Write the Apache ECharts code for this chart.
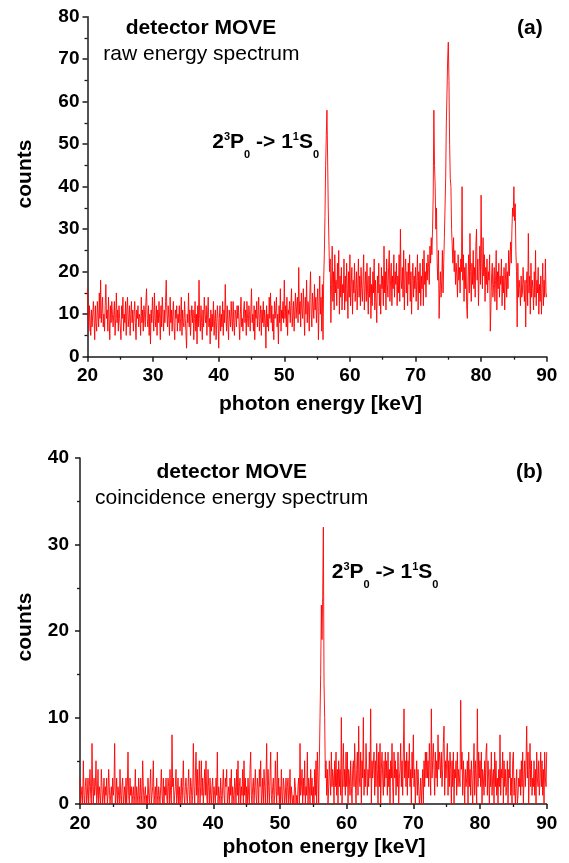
<!DOCTYPE html>
<html><head><meta charset="utf-8">
<script src="https://cdn.jsdelivr.net/npm/echarts@6/dist/echarts.min.js"></script>
<style>html,body{margin:0;padding:0;background:#fff}#c{width:569px;height:863px}</style>
</head><body><div id="c"></div>
<script>
// channel grid of both spectra (keV)
const energyStart = 20;
const energyStep = 0.1;
const xTicks = [20, 30, 40, 50, 60, 70, 80, 90];

// (a) raw energy spectrum, counts per channel, one row per keV (20.0 ... 89.9), then 90.0
const rawCounts = [
  16, 9, 6, 12, 8, 5, 11, 7, 10, 13,
  9, 4, 12, 8, 6, 13, 10, 7, 15, 9,
  18, 8, 11, 14, 7, 10, 6, 12, 17, 9,
  11, 6, 14, 9, 4, 12, 8, 13, 10, 7,
  10, 13, 5, 9, 15, 8, 11, 6, 12, 9,
  7, 4, 12, 9, 14, 6, 10, 8, 13, 5,
  11, 14, 7, 9, 12, 5, 10, 13, 8, 11,
  6, 10, 13, 8, 4, 11, 9, 12, 7, 10,
  9, 5, 14, 8, 11, 6, 12, 10, 7, 13,
  16, 9, 7, 12, 5, 10, 3, 11, 8, 14,
  10, 6, 15, 9, 7, 12, 5, 11, 8, 13,
  9, 4, 12, 7, 14, 10, 6, 11, 8, 13,
  18, 10, 7, 12, 9, 5, 14, 8, 11, 6,
  10, 13, 7, 4, 11, 9, 12, 6, 10, 8,
  12, 6, 9, 14, 5, 11, 8, 7, 13, 9,
  6, 2, 10, 8, 15, 7, 11, 5, 9, 12,
  8, 11, 4, 9, 13, 6, 10, 3, 12, 7,
  18, 9, 6, 12, 8, 4, 11, 7, 14, 10,
  8, 12, 5, 10, 14, 7, 9, 3, 11, 6,
  10, 7, 13, 5, 9, 11, 4, 8, 12, 9,
  2, 9, 12, 6, 10, 7, 13, 5, 11, 8,
  17, 10, 6, 12, 8, 4, 11, 9, 7, 13,
  9, 6, 13, 8, 5, 11, 10, 7, 12, 9,
  12, 8, 4, 10, 14, 7, 9, 6, 11, 13,
  8, 11, 5, 13, 9, 7, 12, 10, 6, 11,
  16, 8, 10, 6, 12, 4, 11, 9, 13, 7,
  10, 14, 6, 9, 12, 5, 11, 8, 13, 7,
  11, 9, 2, 12, 7, 10, 6, 14, 9, 15,
  8, 12, 6, 10, 4, 13, 9, 11, 14, 7,
  10, 3, 12, 8, 16, 6, 11, 9, 13, 8,
  18, 9, 12, 7, 14, 5, 11, 10, 13, 8,
  12, 16, 7, 10, 13, 6, 11, 15, 9, 12,
  14, 8, 21, 10, 13, 7, 15, 11, 9, 16,
  11, 5, 14, 10, 18, 8, 13, 12, 6, 15,
  20, 10, 7, 15, 12, 9, 17, 11, 14, 8,
  13, 16, 4, 12, 19, 10, 14, 6, 17, 4,
  18, 24, 33, 45, 52, 58, 47, 35, 27, 20,
  23, 8, 17, 26, 13, 20, 11, 24, 15, 18,
  12, 22, 16, 25, 10, 19, 14, 21, 11, 17,
  15, 23, 11, 19, 13, 22, 16, 9, 20, 14,
  24, 12, 17, 21, 10, 18, 15, 22, 13, 16,
  20, 11, 17, 23, 14, 19, 12, 21, 16, 13,
  18, 24, 11, 16, 20, 13, 22, 15, 10, 19,
  14, 21, 9, 17, 12, 20, 15, 23, 11, 18,
  13, 8, 19, 15, 22, 12, 17, 10, 21, 16,
  19, 12, 26, 15, 20, 11, 23, 17, 14, 21,
  25, 13, 18, 22, 12, 19, 16, 24, 14, 20,
  17, 22, 12, 19, 15, 24, 13, 30, 18, 16,
  21, 14, 25, 11, 19, 23, 15, 20, 12, 22,
  17, 24, 13, 20, 10, 18, 22, 14, 19, 16,
  21, 13, 18, 24, 11, 20, 15, 22, 12, 19,
  16, 23, 12, 25, 17, 20, 14, 22, 18, 24,
  21, 17, 26, 22, 28, 24, 30, 38, 58, 45,
  40, 30, 35, 22, 18, 25, 9, 16, 20, 14,
  18, 25, 15, 22, 28, 35, 42, 55, 62, 70,
  74, 65, 50, 42, 40, 30, 26, 22, 28, 20,
  25, 17, 22, 19, 14, 24, 18, 21, 15, 23,
  20, 40, 18, 24, 13, 21, 16, 22, 12, 9,
  18, 24, 15, 29, 20, 13, 22, 17, 25, 16,
  21, 14, 26, 30, 18, 23, 12, 20, 26, 17,
  38, 22, 16, 28, 19, 24, 13, 21, 17, 23,
  15, 20, 18, 24, 6, 12, 19, 22, 14, 17,
  21, 13, 18, 25, 11, 20, 16, 22, 14, 19,
  17, 23, 12, 19, 15, 21, 11, 18, 22, 14,
  20, 16, 25, 19, 23, 27, 22, 30, 35, 33,
  40, 32, 36, 25, 20, 7, 22, 14, 18, 16,
  12, 19, 14, 15, 21, 17, 13, 18, 7, 17,
  20, 12, 29, 15, 19, 10, 22, 14, 18, 16,
  11, 20, 14, 25, 12, 18, 15, 21, 10, 17,
  13, 19, 10, 16, 22, 12, 18, 14, 23, 15,
  14
];

// (b) coincidence energy spectrum, counts per channel, one row per keV (20.0 ... 89.9), then 90.0
const coincCounts = [
  3, 0, 1, 2, 0, 5, 1, 0, 2, 3,
  0, 1, 3, 0, 2, 4, 1, 0, 7, 2,
  0, 3, 1, 2, 5, 0, 1, 4, 0, 2,
  1, 0, 4, 2, 0, 1, 3, 0, 2, 1,
  3, 0, 1, 4, 2, 0, 1, 2, 0, 3,
  1, 2, 7, 0, 1, 3, 0, 2, 1, 0,
  4, 1, 0, 2, 3, 0, 1, 2, 0, 3,
  0, 2, 6, 1, 0, 3, 1, 2, 0, 1,
  2, 0, 1, 4, 0, 2, 1, 0, 3, 1,
  0, 3, 1, 0, 5, 2, 0, 1, 2, 0,
  1, 0, 3, 1, 0, 2, 4, 0, 1, 2,
  5, 0, 1, 2, 0, 3, 1, 0, 2, 1,
  0, 2, 4, 1, 0, 3, 0, 2, 1, 3,
  1, 0, 3, 2, 0, 4, 1, 0, 8, 2,
  3, 0, 1, 2, 4, 0, 1, 3, 0, 2,
  0, 1, 3, 0, 2, 5, 1, 0, 2, 3,
  1, 0, 2, 4, 1, 0, 3, 2, 0, 1,
  7, 2, 0, 3, 6, 1, 4, 0, 2, 5,
  0, 2, 5, 1, 3, 0, 2, 4, 1, 5,
  1, 0, 4, 2, 0, 3, 1, 0, 2, 3,
  0, 2, 1, 0, 3, 1, 6, 0, 2, 1,
  0, 3, 1, 0, 2, 4, 1, 0, 3, 2,
  4, 0, 1, 2, 0, 3, 1, 4, 0, 2,
  1, 0, 3, 2, 0, 4, 1, 5, 0, 2,
  3, 0, 2, 1, 4, 0, 5, 1, 3, 0,
  2, 0, 3, 1, 0, 4, 6, 1, 0, 2,
  3, 0, 2, 4, 1, 0, 3, 2, 0, 4,
  2, 5, 0, 1, 3, 0, 4, 2, 0, 3,
  7, 0, 4, 2, 0, 3, 6, 1, 0, 2,
  3, 0, 1, 5, 2, 0, 6, 1, 3, 0,
  2, 0, 4, 1, 0, 3, 2, 0, 1, 3,
  0, 2, 3, 0, 1, 4, 0, 2, 1, 0,
  1, 0, 3, 2, 0, 1, 0, 2, 3, 0,
  7, 1, 2, 4, 0, 3, 1, 5, 0, 2,
  1, 6, 0, 3, 2, 0, 4, 1, 3, 0,
  2, 0, 4, 1, 5, 0, 6, 3, 0, 0,
  10, 15, 23, 19, 24, 32, 14, 10, 3, 5,
  1, 4, 0, 2, 5, 3, 1, 6, 2, 4,
  3, 0, 5, 2, 6, 1, 4, 0, 5, 2,
  4, 1, 10, 0, 3, 7, 2, 4, 1, 6,
  2, 6, 0, 4, 3, 1, 5, 2, 0, 4,
  5, 2, 7, 3, 0, 4, 6, 1, 9, 3,
  2, 6, 0, 5, 3, 10, 1, 4, 2, 7,
  7, 1, 4, 2, 6, 3, 11, 0, 5, 3,
  3, 6, 1, 5, 2, 7, 4, 0, 6, 2,
  7, 0, 4, 6, 3, 1, 5, 2, 6, 3,
  5, 1, 6, 2, 4, 0, 5, 3, 7, 2,
  0, 6, 3, 5, 1, 4, 2, 6, 0, 3,
  4, 7, 2, 5, 1, 6, 11, 3, 5, 2,
  6, 1, 5, 3, 7, 2, 4, 0, 6, 3,
  8, 2, 4, 0, 3, 5, 1, 4, 2, 0,
  1, 3, 0, 2, 4, 0, 5, 2, 6, 3,
  6, 3, 5, 2, 7, 4, 1, 11, 3, 5,
  7, 4, 1, 6, 3, 5, 2, 8, 4, 6,
  5, 3, 6, 2, 4, 7, 9, 1, 5, 3,
  3, 7, 1, 5, 2, 6, 4, 0, 5, 2,
  6, 0, 4, 3, 5, 1, 6, 2, 4, 3,
  2, 12, 4, 6, 1, 5, 3, 0, 4, 2,
  3, 5, 0, 6, 2, 4, 1, 5, 3, 0,
  4, 7, 1, 5, 3, 0, 11, 2, 6, 3,
  5, 2, 6, 0, 4, 3, 1, 5, 2, 6,
  7, 1, 5, 3, 0, 4, 2, 6, 1, 3,
  4, 0, 6, 2, 5, 1, 3, 0, 4, 2,
  8, 1, 4, 3, 6, 0, 5, 2, 4, 1,
  2, 5, 0, 4, 3, 6, 1, 3, 0, 5,
  6, 1, 3, 0, 2, 4, 0, 1, 3, 2,
  4, 1, 5, 2, 6, 0, 3, 5, 2, 5,
  9, 3, 6, 0, 4, 7, 2, 5, 1, 3,
  2, 5, 1, 4, 0, 6, 3, 2, 5, 1,
  3, 6, 2, 5, 1, 4, 0, 6, 3, 2,
  6
];

const F = '"Liberation Sans", Arial, Helvetica, sans-serif';
const AX = '#1a1a1a';
const toPairs = arr => arr.map((v, i) => [+(energyStart + i * energyStep).toFixed(1), v]);

function xAxisDef(gi) {
  return {
    type: 'value', gridIndex: gi, min: xTicks[0], max: xTicks[xTicks.length - 1], interval: 10,
    axisLine: {show: true, onZero: false, lineStyle: {color: AX, width: 1.5}},
    axisTick: {show: true, length: 5, lineStyle: {color: AX, width: 1.5}},
    minorTick: {show: true, splitNumber: 2, length: 3, lineStyle: {color: AX, width: 1.3}},
    splitLine: {show: false}, minorSplitLine: {show: false},
    axisLabel: {fontSize: 19, fontWeight: 'bold', color: '#000', fontFamily: F, margin: 10,
      showMinLabel: true, showMaxLabel: true}
  };
}
function yAxisDef(gi, max, margin) {
  return {
    type: 'value', gridIndex: gi, min: 0, max: max, interval: 10,
    axisLine: {show: true, onZero: false, lineStyle: {color: AX, width: 1.5}},
    axisTick: {show: true, length: 5, lineStyle: {color: AX, width: 1.5}},
    minorTick: {show: true, splitNumber: 2, length: 3, lineStyle: {color: AX, width: 1.3}},
    splitLine: {show: false}, minorSplitLine: {show: false},
    axisLabel: {fontSize: 19, fontWeight: 'bold', color: '#000', fontFamily: F, margin: margin,
      showMinLabel: true, showMaxLabel: true}
  };
}
function txt(x, y, text, size, bold, align, rot) {
  return {type: 'text', x: x, y: y, rotation: rot || 0, silent: true,
    style: {text: text, fill: '#000', fontSize: size, fontWeight: bold ? 'bold' : 'normal',
      fontFamily: F, align: align || 'left', verticalAlign: 'middle'}};
}
function transition(x, top) {
  return {type: 'text', x: x, y: top, silent: true,
    style: {text: '{m|2}{s|3}{m|P}{b|0}{m| -> 1}{s|1}{m|S}{b|0}', align: 'left', verticalAlign: 'top',
      rich: {
        m: {fontSize: 21, fontWeight: 'bold', fontFamily: F, fill: '#000', lineHeight: 28.5, verticalAlign: 'top'},
        s: {fontSize: 11, fontWeight: 'bold', fontFamily: F, fill: '#000', verticalAlign: 'top'},
        b: {fontSize: 11, fontWeight: 'bold', fontFamily: F, fill: '#000', verticalAlign: 'bottom'}
      }}};
}

const chart = echarts.init(document.getElementById('c'), null, {renderer: 'canvas'});
chart.setOption({
  animation: false,
  backgroundColor: '#fff',
  grid: [
    {left: 87.5, top: 16.7, width: 459.2, height: 340},
    {left: 80, top: 458, width: 466.7, height: 346}
  ],
  xAxis: [xAxisDef(0), xAxisDef(1)],
  yAxis: [yAxisDef(0, 80, 8), yAxisDef(1, 40, 11)],
  series: [
    {type: 'line', xAxisIndex: 0, yAxisIndex: 0, data: toPairs(rawCounts), showSymbol: false, symbol: 'none',
      lineStyle: {color: '#ff0000', width: 0.9}, silent: true},
    {type: 'line', xAxisIndex: 1, yAxisIndex: 1, data: toPairs(coincCounts), showSymbol: false, symbol: 'none',
      lineStyle: {color: '#ff0000', width: 0.9}, silent: true}
  ],
  graphic: [
    txt(125.7, 28.3, 'detector MOVE', 21, true),
    txt(103.3, 54.3, 'raw energy spectrum', 21, false),
    txt(517, 28, '(a)', 21, true),
    transition(212.3, 131.7),
    txt(25.5, 174, 'counts', 21, true, 'center', Math.PI / 2),
    txt(320.5, 404.4, 'photon energy [keV]', 21, true, 'center'),
    txt(156.5, 472.5, 'detector MOVE', 21, true),
    txt(95, 498.7, 'coincidence energy spectrum', 21, false),
    txt(516, 472, '(b)', 21, true),
    transition(331.7, 561.7),
    txt(25, 627, 'counts', 21, true, 'center', Math.PI / 2),
    txt(324, 847.2, 'photon energy [keV]', 21, true, 'center')
  ]
});
</script></body></html>
